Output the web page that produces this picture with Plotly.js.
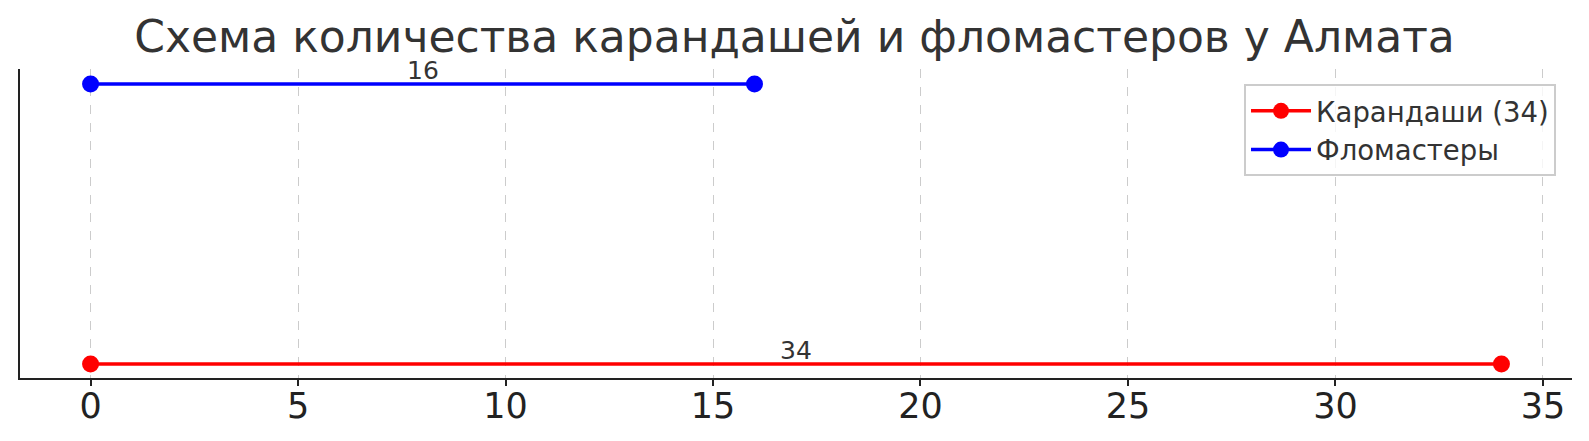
<!DOCTYPE html>
<html>
<head>
<meta charset="utf-8">
<script src="https://cdn.plot.ly/plotly-3.0.1.min.js"></script>
<style>html,body{margin:0;padding:0;background:#fff;}#chart{width:1589px;height:441px;}</style>
</head>
<body>
<div id="chart"></div>
<script>
const categories = ["Карандаши", "Фломастеры"];
const legendNames = ["Карандаши (34)", "Фломастеры"];
const values = [34, 16];
const levels = [0, 1];
const colors = ["red", "blue"];
const titleText = "Схема количества карандашей и фломастеров у Алмата";
const xTicks = [0, 5, 10, 15, 20, 25, 30, 35];

const traces = categories.map((c, i) => ({
  type: "scatter",
  mode: "lines+markers",
  name: legendNames[i],
  x: [0, values[i]],
  y: [levels[i], levels[i]],
  line: {color: colors[i], width: 3.5},
  marker: {color: colors[i], size: 17},
  hoverinfo: "x+name"
}));

const annotations = categories.map((c, i) => ({
  x: values[i] / 2,
  y: levels[i],
  xref: "x", yref: "y",
  text: String(values[i]),
  showarrow: false,
  yanchor: "bottom",
  yshift: -3,
  font: {family: "DejaVu Sans", size: 25, color: "#333"}
}));

const layout = {
  width: 1589, height: 441,
  margin: {l: 20, r: 17, t: 69, b: 63},
  paper_bgcolor: "#fff", plot_bgcolor: "#fff",
  font: {family: "DejaVu Sans", color: "#222"},
  title: {
    text: titleText,
    font: {family: "DejaVu Sans", size: 44, color: "#333"},
    x: 0.5, xanchor: "center",
    y: 0.918, yanchor: "middle"
  },
  showlegend: true,
  legend: {
    x: 0.9897, xanchor: "right",
    y: 0.95, yanchor: "top",
    bgcolor: "rgba(255,255,255,0.8)",
    bordercolor: "#cccccc", borderwidth: 2,
    font: {family: "DejaVu Sans", size: 27.5, color: "#333"},
    itemwidth: 60,
    tracegroupgap: 6
  },
  xaxis: {
    range: [-1.7, 35.7],
    tickvals: xTicks,
    ticktext: xTicks.map(String),
    ticks: "outside", ticklen: 6, tickwidth: 2, tickcolor: "#222",
    ticklabelstandoff: -10,
    tickfont: {family: "DejaVu Sans", size: 35, color: "#222"},
    showline: true, linecolor: "#222", linewidth: 2,
    showgrid: true, gridcolor: "#cccccc", griddash: "dash", gridwidth: 1,
    zeroline: false, mirror: false
  },
  yaxis: {
    range: [-0.05, 1.054],
    showticklabels: false, ticks: "",
    showline: true, linecolor: "#222", linewidth: 2,
    showgrid: false, zeroline: false
  },
  annotations: annotations
};

Plotly.newPlot("chart", traces, layout, {displayModeBar: false, staticPlot: true});
</script>
</body>
</html>
